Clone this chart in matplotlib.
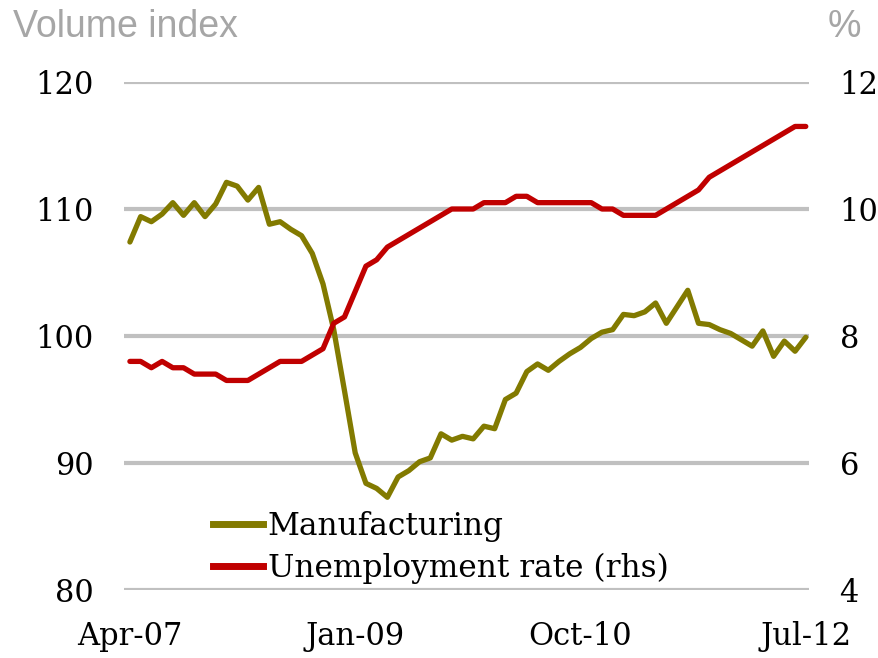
import matplotlib
matplotlib.use("Agg")
import matplotlib.pyplot as plt
from matplotlib.lines import Line2D

# ---- data ----
tick_labels = ["Apr-07", "Jan-09", "Oct-10", "Jul-12"]
tick_index = [0, 21, 42, 63]

manufacturing = [107.4, 109.4, 109.0, 109.6, 110.5, 109.5, 110.5, 109.4, 110.4, 112.1,
                 111.8, 110.7, 111.7, 108.8, 109.0, 108.4, 107.9, 106.5, 104.1, 100.5,
                 95.7, 90.8, 88.4, 88.0, 87.3, 88.9, 89.4, 90.1, 90.4, 92.3,
                 91.8, 92.1, 91.9, 92.9, 92.7, 95.0, 95.5, 97.2, 97.8, 97.3,
                 98.0, 98.6, 99.1, 99.8, 100.3, 100.5, 101.7, 101.6, 101.9, 102.6,
                 101.0, 102.3, 103.6, 101.0, 100.9, 100.5, 100.2, 99.7, 99.2, 100.4,
                 98.4, 99.6, 98.8, 99.9]

unemployment = [7.6, 7.6, 7.5, 7.6, 7.5, 7.5, 7.4, 7.4, 7.4, 7.3,
                7.3, 7.3, 7.4, 7.5, 7.6, 7.6, 7.6, 7.7, 7.8, 8.2,
                8.3, 8.7, 9.1, 9.2, 9.4, 9.5, 9.6, 9.7, 9.8, 9.9,
                10.0, 10.0, 10.0, 10.1, 10.1, 10.1, 10.2, 10.2, 10.1, 10.1,
                10.1, 10.1, 10.1, 10.1, 10.0, 10.0, 9.9, 9.9, 9.9, 9.9,
                10.0, 10.1, 10.2, 10.3, 10.5, 10.6, 10.7, 10.8, 10.9, 11.0,
                11.1, 11.2, 11.3, 11.3]

left_ticks = [80, 90, 100, 110, 120]
right_ticks = [4, 6, 8, 10, 12]

olive = "#827a00"
red = "#c00000"
grid_c = "#c0c0c0"
serif = "DejaVu Serif"

W, H = 879, 658
fig = plt.figure(figsize=(W / 100, H / 100), dpi=100)
ax = fig.add_axes([124 / W, 1 - 590 / H, (809 - 124) / W, (590 - 82) / H])
ax2 = ax.twinx()

x = list(range(len(manufacturing)))
l1, = ax.plot(x, manufacturing, color=olive, lw=3.8, solid_joinstyle="round",
              solid_capstyle="round", zorder=3)
l2, = ax2.plot(x, unemployment, color=red, lw=3.8, solid_joinstyle="round",
               solid_capstyle="round", zorder=3)

ax.set_xlim(-0.55, 63.3)
ax.set_ylim(80, 120)
ax2.set_ylim(4, 12)

ax.set_yticks(left_ticks)
ax.set_yticklabels([str(v) for v in left_ticks])
ax2.set_yticks(right_ticks)
ax2.set_yticklabels([str(v) for v in right_ticks])
ax.set_xticks(tick_index)
ax.set_xticklabels(tick_labels)

for a in (ax, ax2):
    for s in a.spines.values():
        s.set_visible(False)
    a.tick_params(length=0)

ax.tick_params(axis="y", pad=22, labelsize=22, labelcolor="black")
ax2.tick_params(axis="y", pad=22, labelsize=22, labelcolor="black")
ax.tick_params(axis="x", pad=22, labelsize=22, labelcolor="black")
for lab in ax.get_xticklabels() + ax.get_yticklabels() + ax2.get_yticklabels():
    lab.set_fontfamily(serif)

ax.yaxis.grid(True, color=grid_c, lw=3.0)
ax.set_axisbelow(True)

fig.text(13 / W, 1 - 37 / H, "Volume index", fontsize=27, color="#a6a6a6",
         family="Liberation Sans", ha="left", va="baseline")
fig.text(844 / W, 1 - 37 / H, "%", fontsize=27, color="#a6a6a6",
         family="Liberation Sans", ha="center", va="baseline")

handles = [Line2D([], [], color=olive, lw=5), Line2D([], [], color=red, lw=5)]
leg = fig.legend(handles, ["Manufacturing", "Unemployment rate (rhs)"],
                 loc="upper left", bbox_to_anchor=(213 / W, 1 - 511 / H),
                 frameon=False, prop={"family": serif, "size": 22.5},
                 handlelength=1.6, handletextpad=0.15, labelspacing=0.35,
                 borderpad=0, borderaxespad=0)

fig.savefig("out.png", dpi=100)
